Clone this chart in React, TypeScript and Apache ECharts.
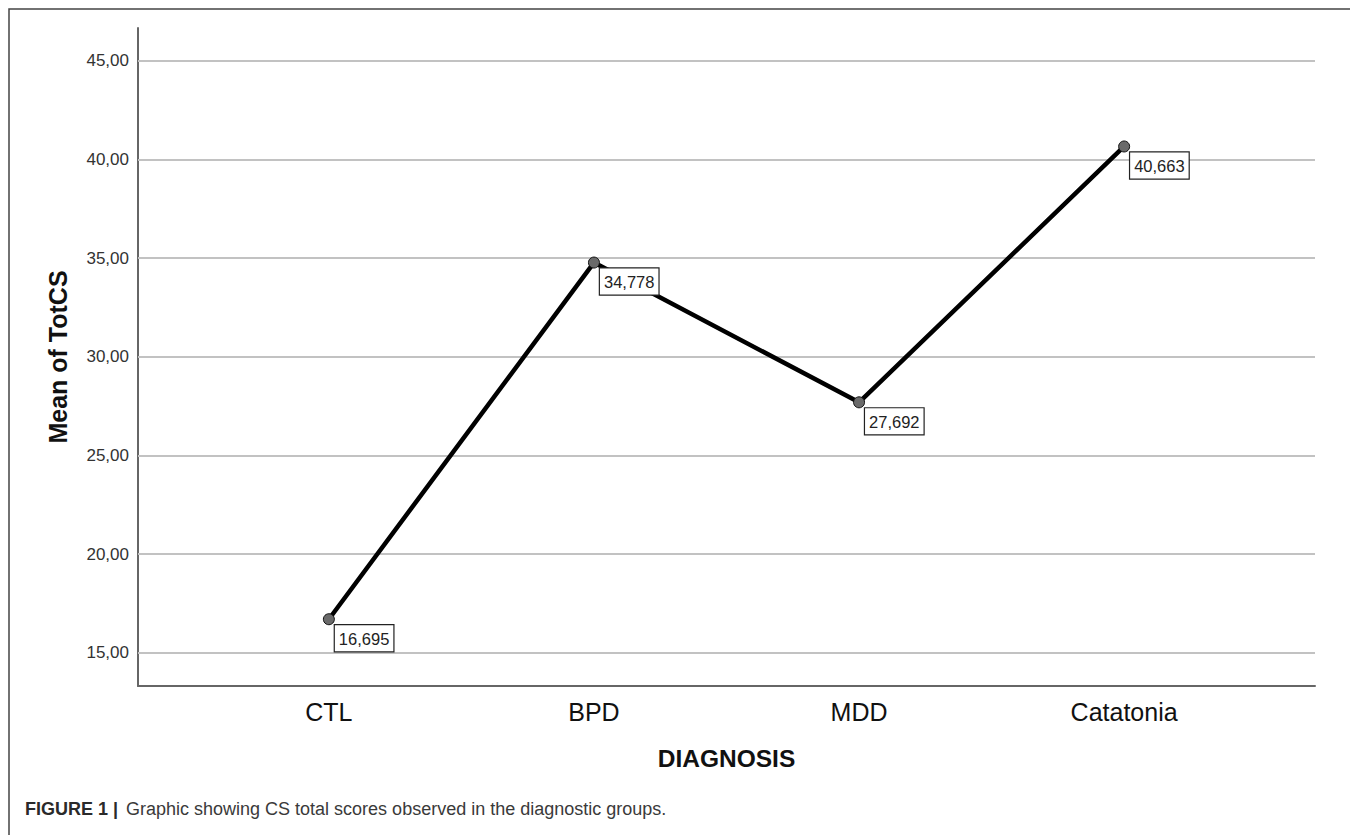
import React, { useEffect, useRef } from "react";
import * as echarts from "echarts";

const categories = ["CTL", "BPD", "MDD", "Catatonia"];
const meanTotCS = [16.695, 34.778, 27.692, 40.663];
const yTicks = [15, 20, 25, 30, 35, 40, 45];
const yTitle = "Mean of TotCS";
const xTitle = "DIAGNOSIS";
const captionBold = "FIGURE 1 |";
const captionText = "Graphic showing CS total scores observed in the diagnostic groups.";

const FONT = "'Liberation Sans', Arial, Helvetica, sans-serif";

export default function App() {
  const ref = useRef<HTMLDivElement>(null);
  useEffect(() => {
    if (!ref.current) return;
    const chart = echarts.init(ref.current, undefined, { renderer: "svg" });
    const points = categories.map((_, i) => [i, meanTotCS[i]]);
    const fmt = (v: number, d: number) => v.toFixed(d).replace(".", ",");
    chart.setOption({
      animation: false,
      backgroundColor: "#fff",
      textStyle: { fontFamily: FONT },
      graphic: [
        {
          type: "polyline",
          silent: true,
          shape: { points: [[1, 900], [1, 1], [1347, 1], [1347, 900]] },
          style: { stroke: "#444", lineWidth: 1.5, fill: "none" },
        },
        {
          type: "text",
          silent: true,
          left: 17,
          top: 792,
          style: {
            text: captionBold,
            fontSize: 18,
            fontWeight: "bold",
            fill: "#2a2a2a",
            fontFamily: FONT,
          },
        },
        {
          type: "text",
          silent: true,
          left: 118,
          top: 792,
          style: {
            text: captionText,
            fontSize: 18,
            fill: "#3a3a3a",
            fontFamily: FONT,
          },
        },
      ],
      grid: { left: 130, right: 43, top: 20, bottom: 149, containLabel: false },
      xAxis: {
        type: "value",
        min: -0.72,
        max: 3.72,
        name: xTitle,
        nameLocation: "middle",
        nameGap: 60,
        nameTextStyle: { fontSize: 24.5, fontWeight: "bold", color: "#111", fontFamily: FONT },
        axisLine: { show: true, onZero: false, lineStyle: { color: "#666", width: 2 } },
        axisTick: { show: false },
        splitLine: { show: false },
        axisLabel: {
          customValues: [0, 1, 2, 3],
          formatter: (v: number) => categories[Math.round(v)] ?? "",
          fontSize: 25,
          color: "#111",
          margin: 13,
          fontFamily: FONT,
        },
      },
      yAxis: {
        type: "value",
        min: 13.31,
        max: 46.67,
        name: yTitle,
        nameLocation: "middle",
        nameGap: 68,
        nameRotate: 90,
        nameTextStyle: { fontSize: 25, fontWeight: "bold", color: "#111", fontFamily: FONT },
        axisLine: { show: true, onZero: false, lineStyle: { color: "#666", width: 2 } },
        axisTick: { show: false },
        splitLine: { show: false },
        axisLabel: {
          customValues: yTicks,
          formatter: (v: number) => fmt(v, 2),
          fontSize: 17,
          color: "#333",
          margin: 9,
          fontFamily: FONT,
        },
      },
      series: [
        {
          type: "line",
          z: 1,
          silent: true,
          data: points,
          symbol: "none",
          lineStyle: { opacity: 0 },
          markLine: {
            z: 1,
            silent: true,
            symbol: ["none", "none"],
            label: { show: false },
            lineStyle: { color: "#c2c2c2", width: 2, type: "solid" },
            data: yTicks.map((t) => ({ yAxis: t })),
          },
        },
        {
          type: "line",
          z: 3,
          data: points,
          symbol: "circle",
          symbolSize: 11,
          itemStyle: { color: "#6a6a6a", borderColor: "#111", borderWidth: 1 },
          lineStyle: { color: "#000", width: 4.5 },
          label: {
            show: true,
            position: [12, 12],
            formatter: (p: any) => fmt(p.value[1], 3),
            fontSize: 16.5,
            color: "#222",
            fontFamily: FONT,
            backgroundColor: "#fff",
            borderColor: "#222",
            borderWidth: 1.2,
            padding: [5, 4, 4, 4],
          },
        },
      ],
    });
    return () => chart.dispose();
  }, []);
  return <div ref={ref} style={{ width: 1350, height: 827 }} />;
}
